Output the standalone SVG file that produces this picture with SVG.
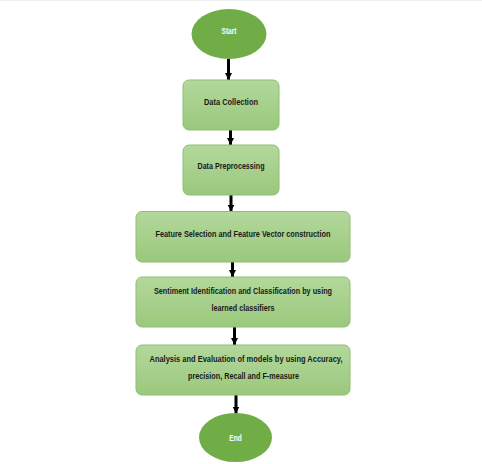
<svg xmlns="http://www.w3.org/2000/svg" width="482" height="464" viewBox="0 0 482 464">
  <style>
    .term { fill: #70ad47; }
    .box { fill: url(#boxGrad); stroke: #8fbf72; stroke-width: 1; }
    .tw { font-family: "Liberation Sans", Arial, sans-serif; font-weight: bold; fill: #ffffff; text-anchor: middle; font-size: 9.5px; }
    .tb { font-family: "Liberation Sans", Arial, sans-serif; font-weight: bold; fill: #1a1a1a; text-anchor: middle; font-size: 9.5px; }
    .conn { stroke: #000000; stroke-width: 3; fill: none; }
  </style>
  <defs>
    <linearGradient id="boxGrad" x1="0" y1="0" x2="0" y2="1">
      <stop offset="0" stop-color="#b3d89b"/>
      <stop offset="1" stop-color="#9ac87d"/>
    </linearGradient>
    <marker id="arrow" markerUnits="userSpaceOnUse" markerWidth="8" markerHeight="7" refX="7" refY="3.5" orient="auto">
      <path d="M0,0 L7,3.5 L0,7 Z" fill="#000000"/>
    </marker>
  </defs>
  <rect width="482" height="464" fill="#ffffff"/>
  <rect x="0" y="0" width="482" height="1" fill="#eeeeee"/>

  <g id="connectors">
    <line class="conn" x1="228.5" y1="59" x2="228.5" y2="80" marker-end="url(#arrow)"/>
    <line class="conn" x1="230.5" y1="130" x2="230.5" y2="145" marker-end="url(#arrow)"/>
    <line class="conn" x1="231" y1="195" x2="231" y2="211.5" marker-end="url(#arrow)"/>
    <line class="conn" x1="232.5" y1="262" x2="232.5" y2="277" marker-end="url(#arrow)"/>
    <line class="conn" x1="234.5" y1="327" x2="234.5" y2="345" marker-end="url(#arrow)"/>
    <line class="conn" x1="236" y1="395" x2="236" y2="413.5" marker-end="url(#arrow)"/>
  </g>

  <g id="start">
    <ellipse class="term" cx="229" cy="34" rx="37.5" ry="25"/>
    <text class="tw" x="229" y="33.5" textLength="15" lengthAdjust="spacingAndGlyphs">Start</text>
  </g>

  <g id="data-collection">
    <rect class="box" x="183" y="80" width="96" height="50" rx="6"/>
    <text class="tb" x="231" y="105" textLength="54" lengthAdjust="spacingAndGlyphs">Data Collection</text>
  </g>

  <g id="data-preprocessing">
    <rect class="box" x="183" y="145" width="96" height="50" rx="6"/>
    <text class="tb" x="231" y="169" textLength="67" lengthAdjust="spacingAndGlyphs">Data Preprocessing</text>
  </g>

  <g id="feature-selection">
    <rect class="box" x="136" y="211.5" width="214" height="50.5" rx="6"/>
    <text class="tb" x="243" y="236.5" textLength="175" lengthAdjust="spacingAndGlyphs">Feature Selection and Feature Vector construction</text>
  </g>

  <g id="sentiment-identification">
    <rect class="box" x="136" y="277" width="214" height="50" rx="6"/>
    <text class="tb" x="243" y="294" textLength="178" lengthAdjust="spacingAndGlyphs">Sentiment Identification and Classification by using</text>
    <text class="tb" x="243" y="310.5" textLength="63" lengthAdjust="spacingAndGlyphs">learned classifiers</text>
  </g>

  <g id="analysis-evaluation">
    <rect class="box" x="136" y="345" width="214" height="50" rx="6"/>
    <text class="tb" x="246" y="362" textLength="193" lengthAdjust="spacingAndGlyphs">Analysis and Evaluation of models by using Accuracy,</text>
    <text class="tb" x="243.5" y="379" textLength="111" lengthAdjust="spacingAndGlyphs">precision, Recall and F-measure</text>
  </g>

  <g id="end">
    <ellipse class="term" cx="235.5" cy="437.5" rx="36.5" ry="24.5"/>
    <text class="tw" x="235.5" y="440.5" textLength="12.5" lengthAdjust="spacingAndGlyphs">End</text>
  </g>
</svg>
